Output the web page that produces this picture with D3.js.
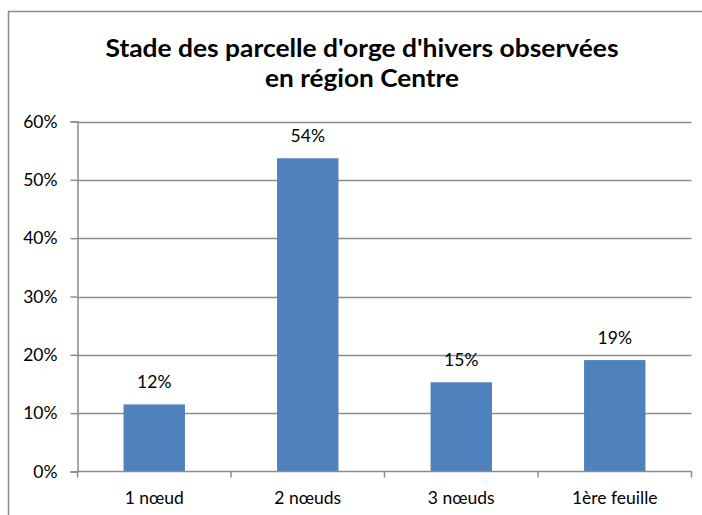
<!DOCTYPE html>
<html>
<head>
<meta charset="utf-8">
<script src="https://cdn.jsdelivr.net/npm/d3@7"></script>
<style>
  body { margin: 0; background: #fff; }
  svg { display: block; font-family: Lato, "Open Sans", sans-serif; }
</style>
</head>
<body>
<svg id="chart" width="702" height="515"></svg>
<script>
const titleLines = ["Stade des parcelle d'orge d'hivers observées", "en région Centre"];
const categories = ["1 nœud", "2 nœuds", "3 nœuds", "1ère feuille"];
const values = [0.115, 0.537, 0.153, 0.191];
const valueLabels = ["12%", "54%", "15%", "19%"];
const yTicks = [0, 0.1, 0.2, 0.3, 0.4, 0.5, 0.6];

const svg = d3.select("#chart");
const gridColor = "#8c8c8c";
const barColor = "#4f81bd";
const labelSize = 17.5;

const plot = { left: 77.5, right: 691.5, top: 121.5, bottom: 471.5 };

// outer chart border (runs off the right and bottom edges)
svg.append("rect")
  .attr("x", 8.5)
  .attr("y", 11.5)
  .attr("width", 720)
  .attr("height", 520)
  .attr("fill", "none")
  .attr("stroke", "#8a8a8a")
  .attr("stroke-width", 1.5);

// title
const titleWidths = [513, 194];
svg.selectAll(".title")
  .data(titleLines)
  .enter()
  .append("text")
  .attr("class", "title")
  .attr("x", 362)
  .attr("y", (d, i) => 57 + i * 30)
  .attr("text-anchor", "middle")
  .attr("font-weight", "bold")
  .attr("font-size", 24.5)
  .attr("textLength", (d, i) => titleWidths[i])
  .attr("lengthAdjust", "spacingAndGlyphs")
  .attr("fill", "#000")
  .text((d) => d);

const x = d3.scaleBand()
  .domain(categories)
  .range([plot.left, plot.right])
  .paddingInner(0.6)
  .paddingOuter(0.3);

const y = d3.scaleLinear()
  .domain([0, 0.6])
  .range([plot.bottom, plot.top]);

// gridlines
svg.append("g")
  .selectAll("line")
  .data(yTicks.slice(1))
  .enter()
  .append("line")
  .attr("x1", plot.left)
  .attr("x2", plot.right)
  .attr("y1", (d) => Math.round(y(d)) + 0.5)
  .attr("y2", (d) => Math.round(y(d)) + 0.5)
  .attr("stroke", gridColor)
  .attr("stroke-width", 1.5);

// bars
svg.append("g")
  .selectAll("rect")
  .data(values)
  .enter()
  .append("rect")
  .attr("x", (d, i) => x(categories[i]))
  .attr("y", (d) => y(d))
  .attr("width", x.bandwidth())
  .attr("height", (d) => plot.bottom - y(d))
  .attr("fill", barColor);

// value labels
svg.append("g")
  .selectAll("text")
  .data(values)
  .enter()
  .append("text")
  .attr("x", (d, i) => x(categories[i]) + x.bandwidth() / 2)
  .attr("y", (d) => y(d) - 16)
  .attr("text-anchor", "middle")
  .attr("font-size", labelSize)
  .attr("fill", "#000")
  .text((d, i) => valueLabels[i]);

// y axis
const yAxis = svg.append("g")
  .attr("transform", `translate(${plot.left},0)`)
  .call(d3.axisLeft(y).tickValues(yTicks).tickFormat(d3.format(".0%")).tickSizeOuter(0).tickSize(7).tickPadding(13));
yAxis.select(".domain").attr("stroke", gridColor).attr("stroke-width", 1.5);
yAxis.selectAll(".tick line").attr("stroke", gridColor).attr("stroke-width", 1.5);
yAxis.selectAll(".tick text")
  .attr("font-family", "Lato, sans-serif")
  .attr("font-size", labelSize)
  .attr("fill", "#000");

// x axis with ticks between categories
const xBoundaries = d3.range(categories.length + 1).map((i) => plot.left + (i * (plot.right - plot.left)) / categories.length);
const xAxisG = svg.append("g");
xAxisG.append("line")
  .attr("x1", plot.left)
  .attr("x2", plot.right)
  .attr("y1", plot.bottom)
  .attr("y2", plot.bottom)
  .attr("stroke", gridColor)
  .attr("stroke-width", 1.5);
xAxisG.selectAll(".xtick")
  .data(xBoundaries)
  .enter()
  .append("line")
  .attr("x1", (d) => d)
  .attr("x2", (d) => d)
  .attr("y1", plot.bottom)
  .attr("y2", plot.bottom + 6)
  .attr("stroke", gridColor)
  .attr("stroke-width", 1.5);
xAxisG.selectAll(".xlabel")
  .data(categories)
  .enter()
  .append("text")
  .attr("x", (d) => x(d) + x.bandwidth() / 2)
  .attr("y", 504)
  .attr("text-anchor", "middle")
  .attr("font-size", labelSize)
  .attr("fill", "#000")
  .text((d) => d);
</script>
</body>
</html>
